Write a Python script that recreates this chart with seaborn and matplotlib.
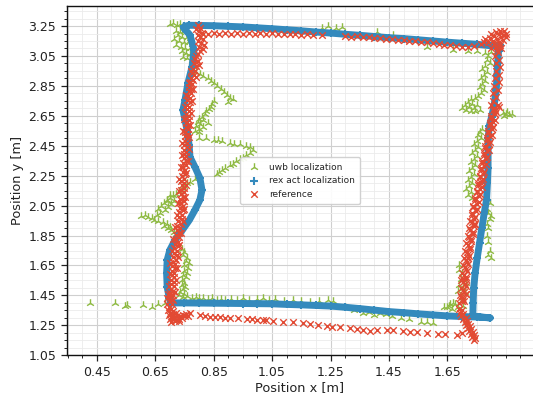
import matplotlib
matplotlib.use("Agg")
import matplotlib.pyplot as plt
from matplotlib.ticker import MultipleLocator, FormatStrFormatter, FixedLocator
import seaborn as sns

sns.set_style("ticks")
plt.rcParams["font.family"] = ["DejaVu Sans"]

# ---- axis ticks ----
x_ticks = [0.45, 0.65, 0.85, 1.05, 1.25, 1.45, 1.65]
y_ticks = [1.05, 1.25, 1.45, 1.65, 1.85, 2.05, 2.25, 2.45, 2.65, 2.85, 3.05, 3.25]
series_labels = ["uwb localization", "rex act localization", "reference"]

# ---- UWB position fixes ----
uwb_points = [
    (0.700, 3.262), (0.712, 3.270), (0.725, 3.255), (0.735, 3.262), (0.745, 3.250),
    (0.720, 3.220), (0.735, 3.210), (0.750, 3.215), (0.765, 3.200), (0.728, 3.190),
    (0.742, 3.180), (0.758, 3.175), (0.770, 3.170), (0.715, 3.165), (0.730, 3.150),
    (0.748, 3.145), (0.762, 3.140), (0.775, 3.130), (0.722, 3.120), (0.738, 3.110),
    (0.752, 3.105), (0.768, 3.100), (0.740, 3.080), (0.755, 3.070), (0.770, 3.060),
    (0.745, 3.040), (0.760, 3.035), (0.775, 3.020),
    (0.790, 2.940), (0.805, 2.930), (0.815, 2.915), (0.830, 2.900), (0.840, 2.880),
    (0.850, 2.870), (0.860, 2.850), (0.875, 2.830), (0.885, 2.810), (0.895, 2.790),
    (0.905, 2.770), (0.915, 2.760), (0.900, 2.745),
    (0.850, 2.750), (0.845, 2.730), (0.840, 2.710), (0.835, 2.695), (0.825, 2.680),
    (0.820, 2.660), (0.810, 2.645), (0.800, 2.630), (0.815, 2.620), (0.795, 2.610),
    (0.805, 2.595), (0.790, 2.580), (0.800, 2.565), (0.815, 2.575), (0.830, 2.600),
    (0.785, 2.550), (0.800, 2.540),
    (0.800, 2.500), (0.825, 2.500), (0.850, 2.490), (0.865, 2.490), (0.880, 2.480),
    (0.905, 2.470), (0.920, 2.465), (0.940, 2.465), (0.960, 2.450), (0.975, 2.440),
    (0.985, 2.420), (0.975, 2.400), (0.960, 2.390), (0.950, 2.370), (0.940, 2.360),
    (0.925, 2.350), (0.915, 2.330), (0.905, 2.320), (0.890, 2.300), (0.880, 2.290),
    (0.870, 2.275), (0.860, 2.260),
    (0.800, 2.250), (0.785, 2.230), (0.770, 2.210), (0.760, 2.200), (0.750, 2.180),
    (0.740, 2.165), (0.730, 2.150), (0.720, 2.130), (0.710, 2.120), (0.700, 2.100),
    (0.690, 2.085), (0.680, 2.070),
    (0.600, 1.980), (0.615, 1.990), (0.625, 1.975), (0.640, 1.970), (0.655, 1.985),
    (0.645, 1.955), (0.660, 1.950), (0.665, 2.000), (0.675, 1.940), (0.690, 1.930),
    (0.680, 1.915), (0.695, 1.900), (0.705, 1.890), (0.715, 1.875), (0.720, 1.860),
    (0.700, 1.910), (0.660, 2.030), (0.670, 2.050), (0.685, 2.020), (0.695, 2.040),
    (0.705, 2.060), (0.690, 2.080), (0.715, 2.080), (0.700, 2.120),
    (0.740, 1.760), (0.750, 1.740), (0.745, 1.720), (0.760, 1.700), (0.755, 1.680),
    (0.765, 1.665), (0.750, 1.650), (0.762, 1.630), (0.748, 1.610), (0.758, 1.600),
    (0.745, 1.585), (0.755, 1.570), (0.740, 1.550), (0.750, 1.535), (0.742, 1.520),
    (0.752, 1.505), (0.745, 1.490), (0.735, 1.475), (0.750, 1.460),
    (0.730, 1.450), (0.745, 1.440), (0.760, 1.445), (0.775, 1.430), (0.790, 1.440),
    (0.800, 1.430), (0.815, 1.435), (0.830, 1.425), (0.845, 1.430), (0.860, 1.420),
    (0.875, 1.425), (0.890, 1.420), (0.910, 1.425), (0.930, 1.420), (0.950, 1.430),
    (0.970, 1.420), (1.000, 1.425), (1.020, 1.430), (1.040, 1.420), (1.060, 1.425),
    (1.090, 1.415), (1.120, 1.420), (1.150, 1.410), (1.180, 1.405), (1.210, 1.410),
    (1.240, 1.420), (1.260, 1.410), (1.300, 1.375), (1.330, 1.350), (1.360, 1.335),
    (1.380, 1.340), (1.400, 1.320), (1.420, 1.330), (1.440, 1.325), (1.460, 1.310),
    (1.490, 1.300), (1.520, 1.290), (1.560, 1.275), (1.580, 1.270), (1.600, 1.265),
    (1.640, 1.370), (1.655, 1.380), (1.665, 1.360), (1.675, 1.390), (1.685, 1.375),
    (1.670, 1.400), (1.650, 1.370), (1.660, 1.390),
    (0.427, 1.400), (0.512, 1.400), (0.546, 1.380), (0.553, 1.385), (0.608, 1.385),
    (0.639, 1.372), (0.659, 1.392), (0.683, 1.400),
    (1.780, 3.070), (1.790, 3.050), (1.785, 3.020), (1.795, 3.000), (1.780, 2.980),
    (1.770, 2.960), (1.785, 2.940), (1.775, 2.920), (1.765, 2.900), (1.780, 2.880),
    (1.770, 2.860), (1.760, 2.840), (1.775, 2.820), (1.765, 2.800), (1.755, 2.780),
    (1.745, 2.770), (1.730, 2.760), (1.720, 2.745), (1.735, 2.730), (1.750, 2.725),
    (1.710, 2.720), (1.725, 2.710), (1.740, 2.700), (1.700, 2.700), (1.715, 2.690),
    (1.730, 2.685), (1.745, 2.680), (1.760, 2.690), (1.840, 2.670), (1.850, 2.660),
    (1.860, 2.655), (1.855, 2.675), (1.845, 2.650), (1.870, 2.660),
    (1.770, 2.560), (1.760, 2.540), (1.755, 2.520), (1.765, 2.500), (1.750, 2.480),
    (1.740, 2.460), (1.755, 2.440), (1.745, 2.420), (1.735, 2.400), (1.750, 2.380),
    (1.740, 2.360), (1.730, 2.340), (1.745, 2.320), (1.735, 2.300), (1.725, 2.280),
    (1.740, 2.260), (1.730, 2.240), (1.720, 2.220), (1.735, 2.200), (1.725, 2.180),
    (1.715, 2.160), (1.730, 2.140), (1.720, 2.120), (1.735, 2.100),
    (1.795, 2.070), (1.790, 2.000), (1.795, 1.960), (1.785, 1.930), (1.790, 1.900),
    (1.785, 1.850), (1.790, 1.810), (1.795, 1.750), (1.800, 1.700), (1.790, 1.720),
    (1.785, 2.030), (1.800, 1.980),
    (1.715, 1.530), (1.705, 1.500), (1.710, 1.470), (1.700, 1.440), (1.695, 1.410),
    (1.705, 1.380), (1.690, 1.650), (1.700, 1.600), (1.695, 1.560), (1.690, 1.520),
    (1.685, 1.480), (1.690, 1.620),
    (1.220, 3.240), (1.240, 3.250), (1.270, 3.235), (1.290, 3.245), (1.410, 3.210),
    (1.465, 3.190), (1.580, 3.110), (1.670, 3.090), (1.720, 3.080), (1.750, 3.085),
    (1.800, 3.075),
]

# ---- robot odometry track (in driving order) ----
rex_points = [
    (0.704, 1.400), (0.750, 1.400), (0.800, 1.399), (0.850, 1.398), (0.900, 1.397),
    (0.950, 1.396), (1.000, 1.395), (1.050, 1.394), (1.100, 1.390), (1.150, 1.387),
    (1.200, 1.383), (1.250, 1.379), (1.300, 1.371), (1.350, 1.362), (1.400, 1.352),
    (1.450, 1.342), (1.500, 1.335), (1.550, 1.327), (1.600, 1.320), (1.650, 1.313),
    (1.700, 1.309), (1.750, 1.306), (1.797, 1.300), (1.760, 1.307), (1.737, 1.313),
    (1.738, 1.400), (1.740, 1.500), (1.745, 1.600), (1.752, 1.700), (1.760, 1.800),
    (1.768, 1.900), (1.776, 2.000), (1.784, 2.090), (1.787, 2.200), (1.789, 2.300),
    (1.789, 2.400), (1.790, 2.500), (1.793, 2.580), (1.801, 2.640), (1.810, 2.720),
    (1.817, 2.820), (1.820, 2.920), (1.822, 3.000), (1.825, 3.080), (1.829, 3.120),
    (1.800, 3.118), (1.750, 3.128), (1.700, 3.135), (1.650, 3.142), (1.600, 3.150),
    (1.550, 3.158), (1.500, 3.166), (1.450, 3.172), (1.400, 3.180), (1.350, 3.188),
    (1.300, 3.195), (1.250, 3.203), (1.200, 3.210), (1.150, 3.218), (1.100, 3.225),
    (1.050, 3.232), (1.000, 3.238), (0.950, 3.244), (0.900, 3.248), (0.850, 3.252),
    (0.800, 3.254), (0.765, 3.255), (0.750, 3.248), (0.748, 3.235), (0.755, 3.220),
    (0.769, 3.190), (0.783, 3.090), (0.776, 2.976), (0.762, 2.869), (0.752, 2.756),
    (0.745, 2.689), (0.752, 2.622), (0.759, 2.555), (0.766, 2.455), (0.769, 2.375),
    (0.786, 2.308), (0.803, 2.234), (0.810, 2.154), (0.803, 2.088), (0.786, 2.021),
    (0.767, 1.954), (0.743, 1.887), (0.718, 1.820), (0.700, 1.753), (0.691, 1.687),
    (0.689, 1.600), (0.691, 1.506), (0.698, 1.433), (0.704, 1.400),
]

# ---- reference positions ----
ref_points = [
    # left side
    (0.795, 3.255), (0.805, 3.240), (0.790, 3.230), (0.800, 3.215), (0.812, 3.200),
    (0.795, 3.190), (0.805, 3.175), (0.815, 3.160), (0.798, 3.150), (0.808, 3.135),
    (0.818, 3.120), (0.800, 3.110), (0.812, 3.095), (0.805, 3.080), (0.795, 3.065),
    (0.790, 3.050), (0.785, 3.030), (0.795, 3.015), (0.782, 3.000), (0.790, 2.980),
    (0.778, 2.965), (0.786, 2.950), (0.775, 2.935), (0.783, 2.920), (0.772, 2.905),
    (0.780, 2.890), (0.770, 2.875), (0.777, 2.860), (0.767, 2.845),
    (0.774, 2.830), (0.764, 2.815), (0.771, 2.800), (0.762, 2.785), (0.770, 2.770),
    (0.760, 2.755), (0.768, 2.740), (0.759, 2.725), (0.767, 2.710), (0.758, 2.695),
    (0.766, 2.680), (0.757, 2.665), (0.765, 2.650), (0.756, 2.635), (0.764, 2.620),
    (0.755, 2.605), (0.763, 2.590), (0.754, 2.575), (0.762, 2.560),
    (0.753, 2.545), (0.761, 2.530), (0.752, 2.515), (0.760, 2.500), (0.751, 2.485),
    (0.759, 2.470), (0.750, 2.455), (0.758, 2.440), (0.749, 2.425), (0.757, 2.410),
    (0.748, 2.395), (0.756, 2.380), (0.747, 2.365), (0.755, 2.350), (0.746, 2.335),
    (0.754, 2.320), (0.745, 2.305), (0.753, 2.290), (0.744, 2.275),
    (0.752, 2.260), (0.740, 2.245), (0.748, 2.230), (0.738, 2.215), (0.750, 2.200),
    (0.740, 2.185), (0.747, 2.170), (0.737, 2.155), (0.749, 2.140), (0.739, 2.125),
    (0.746, 2.110), (0.736, 2.095), (0.748, 2.080), (0.738, 2.065), (0.745, 2.050),
    (0.735, 2.035), (0.744, 2.020), (0.733, 2.005), (0.742, 1.990), (0.731, 1.975),
    (0.740, 1.960), (0.729, 1.945), (0.737, 1.930), (0.726, 1.915), (0.735, 1.900),
    (0.724, 1.885), (0.733, 1.870), (0.722, 1.855), (0.731, 1.840), (0.720, 1.825),
    (0.729, 1.810), (0.718, 1.795), (0.727, 1.780), (0.716, 1.765), (0.725, 1.750),
    (0.714, 1.735), (0.723, 1.720), (0.712, 1.705), (0.721, 1.690), (0.711, 1.675),
    (0.719, 1.660), (0.709, 1.645), (0.718, 1.630), (0.708, 1.615), (0.716, 1.600),
    (0.706, 1.585), (0.715, 1.570), (0.705, 1.555), (0.714, 1.540), (0.704, 1.525),
    (0.713, 1.510), (0.703, 1.495), (0.712, 1.480), (0.702, 1.465), (0.711, 1.450),
    (0.701, 1.435), (0.710, 1.420),
    (0.800, 2.990), (0.772, 2.950), (0.790, 2.910), (0.764, 2.870), (0.781, 2.830),
    (0.755, 2.790), (0.776, 2.750), (0.752, 2.710), (0.772, 2.670), (0.749, 2.630),
    (0.770, 2.590), (0.746, 2.550), (0.767, 2.510), (0.743, 2.470), (0.764, 2.430),
    (0.740, 2.390), (0.762, 2.350), (0.738, 2.310), (0.757, 2.270), (0.733, 2.230),
    (0.754, 2.190), (0.730, 2.150), (0.752, 2.110), (0.727, 2.070), (0.749, 2.030),
    (0.725, 1.990), (0.744, 1.950), (0.718, 1.910), (0.738, 1.870), (0.712, 1.830),
    (0.733, 1.790), (0.706, 1.750), (0.728, 1.710), (0.702, 1.670), (0.723, 1.630),
    (0.699, 1.590), (0.720, 1.550), (0.697, 1.510), (0.718, 1.470),
    # lower left corner
    (0.695, 1.460), (0.705, 1.450), (0.692, 1.430), (0.700, 1.410), (0.690, 1.395),
    (0.708, 1.390), (0.697, 1.375), (0.705, 1.360), (0.693, 1.350), (0.712, 1.345),
    (0.700, 1.335), (0.710, 1.325), (0.720, 1.330), (0.697, 1.320), (0.706, 1.310),
    (0.716, 1.305), (0.726, 1.310), (0.736, 1.315), (0.745, 1.320), (0.700, 1.295),
    (0.712, 1.290), (0.722, 1.285), (0.732, 1.295), (0.742, 1.300), (0.752, 1.310),
    (0.705, 1.275), (0.718, 1.278), (0.730, 1.280), (0.755, 1.325), (0.762, 1.315),
    # bottom side
    (0.769, 1.333), (0.803, 1.319), (0.820, 1.315), (0.838, 1.306), (0.855, 1.305),
    (0.872, 1.306), (0.890, 1.300), (0.906, 1.299), (0.935, 1.296), (0.964, 1.293),
    (0.980, 1.290), (0.998, 1.286), (1.019, 1.286), (1.030, 1.283), (1.053, 1.279),
    (1.087, 1.272), (1.121, 1.272), (1.156, 1.266), (1.180, 1.259), (1.207, 1.252),
    (1.238, 1.246), (1.255, 1.239), (1.282, 1.239), (1.316, 1.232), (1.340, 1.226),
    (1.361, 1.219), (1.385, 1.212), (1.409, 1.219), (1.443, 1.219), (1.464, 1.219),
    (1.498, 1.212), (1.522, 1.206), (1.546, 1.206), (1.580, 1.199), (1.618, 1.192),
    (1.642, 1.192), (1.683, 1.186),
    # lower right corner
    (1.690, 1.360), (1.700, 1.350), (1.692, 1.335), (1.705, 1.325), (1.698, 1.310),
    (1.712, 1.300), (1.705, 1.290), (1.718, 1.280), (1.710, 1.270), (1.722, 1.260),
    (1.715, 1.250), (1.728, 1.245), (1.720, 1.235), (1.732, 1.225), (1.725, 1.215),
    (1.738, 1.205), (1.730, 1.195), (1.742, 1.185), (1.735, 1.175), (1.745, 1.165),
    (1.740, 1.155), (1.700, 1.200),
    # right side
    (1.690, 1.400), (1.705, 1.425), (1.694, 1.450), (1.708, 1.475), (1.696, 1.500),
    (1.709, 1.525), (1.698, 1.550), (1.712, 1.575), (1.700, 1.600), (1.715, 1.625),
    (1.703, 1.650), (1.718, 1.675), (1.706, 1.700), (1.721, 1.725), (1.710, 1.750),
    (1.726, 1.775), (1.714, 1.800), (1.730, 1.825), (1.719, 1.850), (1.736, 1.875),
    (1.723, 1.900), (1.740, 1.925), (1.728, 1.950), (1.746, 1.975), (1.734, 2.000),
    (1.751, 2.025), (1.739, 2.050), (1.757, 2.075), (1.744, 2.100), (1.762, 2.125),
    (1.750, 2.150), (1.767, 2.175), (1.755, 2.200), (1.772, 2.225), (1.760, 2.250),
    (1.776, 2.275), (1.764, 2.300), (1.781, 2.325), (1.769, 2.350), (1.787, 2.375),
    (1.775, 2.400), (1.792, 2.425), (1.780, 2.450), (1.797, 2.475), (1.785, 2.500),
    (1.802, 2.525), (1.790, 2.550), (1.807, 2.575), (1.795, 2.600), (1.812, 2.625),
    (1.800, 2.650), (1.818, 2.675), (1.808, 2.700), (1.822, 2.725), (1.805, 2.750),
    (1.818, 2.775), (1.806, 2.800), (1.822, 2.825), (1.811, 2.850), (1.826, 2.875),
    (1.814, 2.900), (1.828, 2.925), (1.815, 2.950), (1.829, 2.975), (1.816, 3.000),
    (1.828, 3.025), (1.813, 3.050), (1.824, 3.075),
    (1.708, 1.412), (1.698, 1.438), (1.712, 1.462), (1.703, 1.488), (1.712, 1.512),
    (1.705, 1.538), (1.715, 1.562), (1.706, 1.588), (1.718, 1.612), (1.710, 1.638),
    (1.720, 1.662), (1.712, 1.688), (1.724, 1.712), (1.716, 1.738), (1.728, 1.762),
    (1.720, 1.788), (1.732, 1.812), (1.724, 1.838), (1.737, 1.862), (1.729, 1.888),
    (1.742, 1.912), (1.734, 1.938), (1.742, 1.962), (1.734, 1.988), (1.747, 2.012),
    (1.739, 2.038), (1.752, 2.062), (1.744, 2.088), (1.757, 2.112), (1.750, 2.138),
    (1.762, 2.162), (1.755, 2.188), (1.767, 2.212), (1.760, 2.238), (1.771, 2.262),
    (1.764, 2.288), (1.776, 2.312), (1.769, 2.338), (1.782, 2.362), (1.775, 2.388),
    (1.787, 2.412), (1.780, 2.438), (1.792, 2.462), (1.785, 2.488), (1.797, 2.512),
    (1.790, 2.538), (1.802, 2.562), (1.795, 2.588), (1.807, 2.612), (1.800, 2.638),
    (1.812, 2.662), (1.805, 2.688),
    (1.700, 1.410), (1.712, 1.460), (1.702, 1.560), (1.722, 1.700), (1.745, 1.930),
    (1.765, 2.200), (1.812, 2.690), (1.826, 2.710), (1.800, 2.720),
    # upper right corner
    (1.800, 3.200), (1.815, 3.210), (1.830, 3.220), (1.845, 3.215), (1.850, 3.200),
    (1.840, 3.190), (1.825, 3.195), (1.810, 3.185), (1.795, 3.170), (1.780, 3.160),
    (1.835, 3.175), (1.850, 3.180), (1.820, 3.160), (1.805, 3.150), (1.790, 3.140),
    (1.775, 3.145), (1.840, 3.155), (1.825, 3.140), (1.810, 3.130), (1.830, 3.120),
    (1.815, 3.110), (1.800, 3.105), (1.835, 3.100), (1.820, 3.090), (1.765, 3.130),
    # top side
    (0.810, 3.205), (0.830, 3.200), (0.850, 3.205), (0.870, 3.198), (0.890, 3.203),
    (0.910, 3.197), (0.930, 3.202), (0.950, 3.198), (0.970, 3.203), (0.990, 3.197),
    (1.010, 3.202), (1.030, 3.198), (1.050, 3.203), (1.070, 3.196), (1.090, 3.200),
    (1.110, 3.195), (1.130, 3.198), (1.150, 3.192), (1.170, 3.195), (1.190, 3.190),
    (1.220, 3.190), (1.300, 3.185), (1.320, 3.180), (1.340, 3.183), (1.360, 3.175),
    (1.380, 3.178), (1.400, 3.172), (1.420, 3.168), (1.440, 3.165), (1.460, 3.160),
    (1.480, 3.158), (1.500, 3.155), (1.520, 3.150), (1.540, 3.148), (1.560, 3.142),
    (1.580, 3.140), (1.600, 3.135), (1.620, 3.130), (1.640, 3.125), (1.660, 3.120),
    (1.680, 3.115), (1.700, 3.110), (1.720, 3.112), (1.740, 3.115),
]

GREEN = "#8EBA42"
BLUE = "#348ABD"
RED = "#E24A33"

uwb_x, uwb_y = zip(*uwb_points)
rex_x, rex_y = zip(*rex_points)
ref_x, ref_y = zip(*ref_points)

fig = plt.figure(figsize=(5.33, 3.98), dpi=100)
ax = fig.add_axes([0.1251, 0.1073, 0.8749, 0.8777])

sns.scatterplot(x=list(uwb_x), y=list(uwb_y), marker="2", s=38, color=GREEN,
                linewidth=1.0, label=series_labels[0], ax=ax, zorder=3)
sns.lineplot(x=list(rex_x), y=list(rex_y), sort=False, estimator=None, color=BLUE,
             linewidth=5, ax=ax, zorder=4, legend=False)
sns.scatterplot(x=list(rex_x), y=list(rex_y), marker="+", s=40, color=BLUE,
                linewidth=1.5, label=series_labels[1], ax=ax, zorder=5)
sns.scatterplot(x=list(ref_x), y=list(ref_y), marker="x", s=22, color=RED,
                linewidth=1.0, label=series_labels[2], ax=ax, zorder=6)

ax.set_xlim(0.347, 1.943)
ax.set_ylim(1.05, 3.384)
ax.xaxis.set_major_locator(FixedLocator(x_ticks))
ax.yaxis.set_major_locator(FixedLocator(y_ticks))
ax.xaxis.set_major_formatter(FormatStrFormatter("%.2f"))
ax.yaxis.set_major_formatter(FormatStrFormatter("%.2f"))
ax.xaxis.set_minor_locator(MultipleLocator(0.05))
ax.yaxis.set_minor_locator(MultipleLocator(0.05))

ax.grid(which="major", color="#cfcfcf", linewidth=0.8)
ax.grid(which="minor", color="#ebebeb", linewidth=0.6)
ax.set_axisbelow(True)

ax.tick_params(which="major", length=4, width=0.9, labelsize=9, colors="#222222")
ax.tick_params(which="minor", length=2, width=0.7)
for side in ("left", "bottom", "top"):
    ax.spines[side].set_color("#111111")
    ax.spines[side].set_linewidth(1.0)
ax.spines["right"].set_visible(False)

ax.set_xlabel("Position x [m]", fontsize=9.3, color="#222222", labelpad=2)
ax.set_ylabel("Position y [m]", fontsize=9.3, color="#222222", labelpad=3)

leg = ax.legend(loc="center", fontsize=6.5, frameon=True, fancybox=True,
                edgecolor="#cccccc", framealpha=0.9, handletextpad=0.6,
                borderpad=0.6, labelspacing=0.5)

fig.savefig("out.png", dpi=100)
